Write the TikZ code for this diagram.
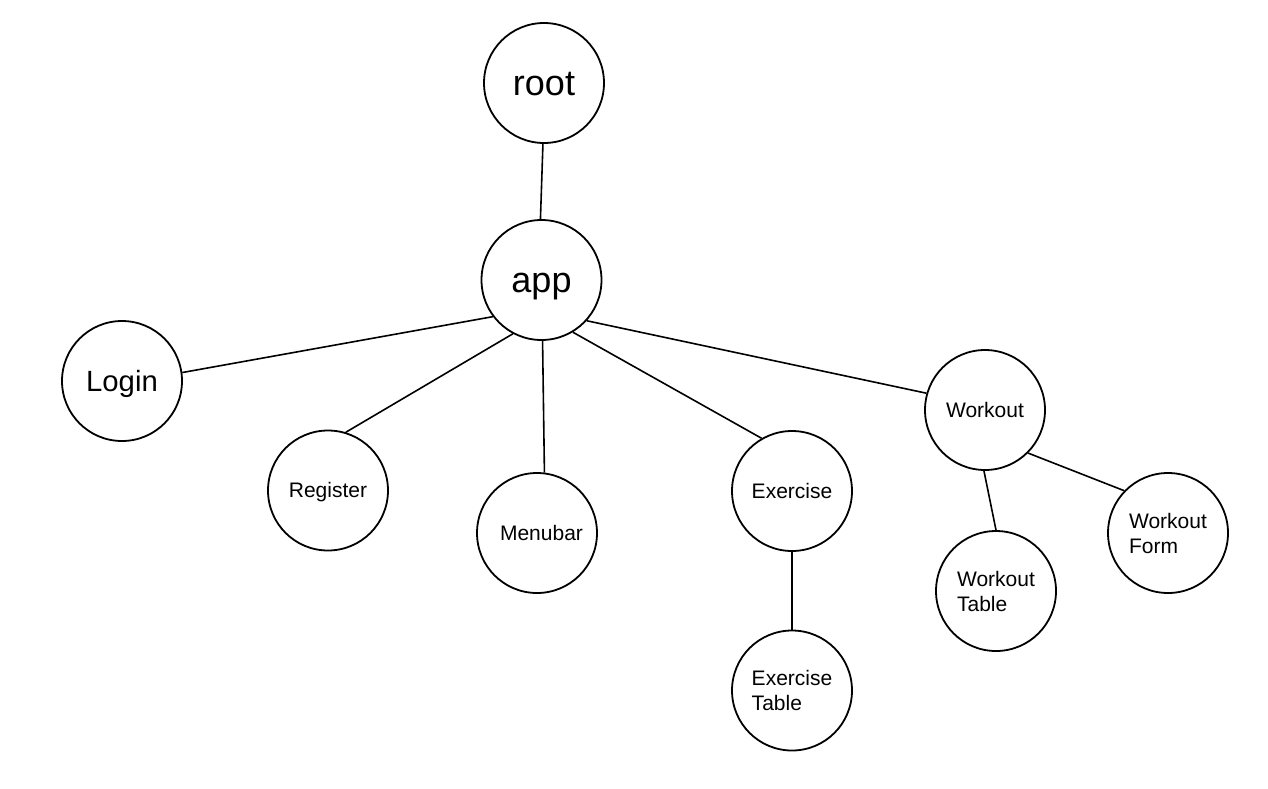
\documentclass[tikz,border=0pt]{standalone}
\usepackage{fontspec}
\setmainfont{Liberation Sans}
\begin{document}
\begin{tikzpicture}[x=1pt,y=-1pt,
  bub/.style={circle,draw=black,line width=1.8pt,inner sep=0pt,minimum size=120pt,fill=white},
  big/.style={font=\fontsize{36}{40}\selectfont,text height=24pt,text depth=0pt},
  mid/.style={font=\fontsize{29.3}{32}\selectfont,text height=21pt,text depth=0pt},
  small/.style={font=\fontsize{21}{25}\selectfont,align=left},
  one/.style={text height=14.5pt,text depth=0pt},
  edge/.style={line width=1.6pt,draw=black}]
\useasboundingbox[fill=white] (0,0) rectangle (1268,788);
\node[bub,big] (root) at (544,83) {root};
\node[bub,big] (app) at (541.5,280) {app};
\node[bub,mid] (login) at (122,381) {Login};
\node[bub,small,one] (register) at (328,490.5) {Register};
\node[bub,small,one] (menubar) at (537,533) {\hspace*{9pt}Menubar};
\node[bub,small,one] (exercise) at (792,491) {Exercise};
\node[bub,small] (extable) at (792,690.5) {Exercise\\Table};
\node[bub,small,one] (workout) at (985,410) {Workout};
\node[bub,small] (wtable) at (996,591) {Workout\\Table};
\node[bub,small] (wform) at (1168,533) {Workout\\Form};
\draw[edge] (root.269) -- (app.91);
\draw[edge] (app.217.6) -- (login.8.9);
\draw[edge] (app.242) -- (register.73);
\draw[edge] (app.271.4) -- (menubar.83.4);
\draw[edge] (app.301) -- (exercise.120.6);
\draw[edge] (app.318) -- (workout.164.8);
\draw[edge] (exercise.270) -- (extable.90);
\draw[edge] (workout.269) -- (wtable.90);
\draw[edge] (workout.315) -- (wform.136);
\end{tikzpicture}
\end{document}
